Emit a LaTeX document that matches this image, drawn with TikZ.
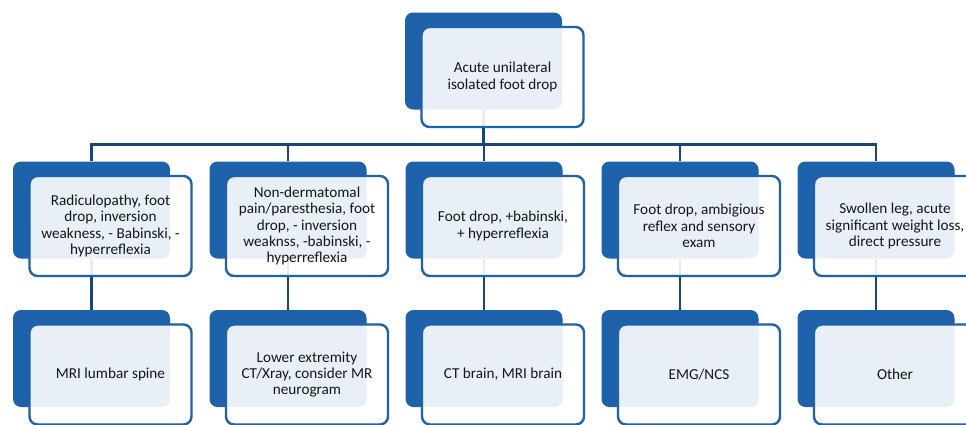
\documentclass[tikz,border=0pt]{standalone}
\usepackage{fontspec}
\setmainfont{Carlito}
\usetikzlibrary{positioning}
\definecolor{boxblue}{RGB}{30,98,172}
\definecolor{linkblue}{RGB}{24,68,128}
\definecolor{textgray}{RGB}{22,22,22}

\begin{document}
\begin{tikzpicture}[x=1pt,y=-1pt,
    back/.style={fill=boxblue,rounded corners=8pt,minimum width=157pt,minimum height=97pt,inner sep=0pt},
    front/.style={draw=boxblue,line width=2.4pt,fill=white,fill opacity=0.9,text opacity=1,
      rounded corners=8pt,minimum width=162pt,minimum height=100pt,inner sep=1pt,
      align=center,text=textgray,font=\fontsize{15.2}{16.4}\selectfont},
    link/.style={draw=linkblue,line width=2.6pt}]
    \fill[white] (0,0) rectangle (966,424);
    \clip (0,0) rectangle (966,424);

    % back plates
    \node[back] (tb) at (483.5,61) {};
    \node[back] (c1) at (91.5,210) {};
    \node[back] (c2) at (288,210) {};
    \node[back] (c3) at (484,210) {};
    \node[back] (c4) at (680,210) {};
    \node[back] (c5) at (876,210) {};
    \node[back] (b1) at (91.5,358.5) {};
    \node[back] (b2) at (288,358.5) {};
    \node[back] (b3) at (484,358.5) {};
    \node[back] (b4) at (680,358.5) {};
    \node[back] (b5) at (876,358.5) {};

    % tree lines
    \draw[link] (tb.south) -- ++(0,35) -| (c1.north);
    \draw[link] (tb.south) -- ++(0,35) -| (c2.north);
    \draw[link] (tb.south) -- ++(0,35) -| (c3.north);
    \draw[link] (tb.south) -- ++(0,35) -| (c4.north);
    \draw[link] (tb.south) -- ++(0,35) -| (c5.north);
    \draw[link] (c1.south) -- (b1.north);
    \draw[link] (c2.south) -- (b2.north);
    \draw[link] (c3.south) -- (b3.north);
    \draw[link] (c4.south) -- (b4.north);
    \draw[link] (c5.south) -- (b5.north);

    % front cards
    \node[front] (tf) at ([shift={(19,16)}]tb.center) {Acute unilateral\\isolated foot drop};
    \node[front] (c1f) at ([shift={(19,16)}]c1.center) {Radiculopathy, foot\\drop, inversion\\weakness, - Babinski, -\\hyperreflexia};
    \node[front] (c2f) at ([shift={(19,16)}]c2.center) {Non-dermatomal\\pain/paresthesia, foot\\drop, - inversion\\weaknss, -babinski, -\\hyperreflexia};
    \node[front] (c3f) at ([shift={(19,16)}]c3.center) {Foot drop, +babinski,\\+ hyperreflexia};
    \node[front] (c4f) at ([shift={(19,16)}]c4.center) {Foot drop, ambigious\\reflex and sensory\\exam};
    \node[front] (c5f) at ([shift={(19,16)}]c5.center) {Swollen leg, acute\\significant weight loss,\\direct pressure};
    \node[front] (b1f) at ([shift={(19,16)}]b1.center) {MRI lumbar spine};
    \node[front] (b2f) at ([shift={(19,16)}]b2.center) {Lower extremity\\CT/Xray, consider MR\\neurogram};
    \node[front] (b3f) at ([shift={(19,16)}]b3.center) {CT brain, MRI brain};
    \node[front] (b4f) at ([shift={(19,16)}]b4.center) {EMG/NCS};
    \node[front] (b5f) at ([shift={(19,16)}]b5.center) {Other};
\end{tikzpicture}
\end{document}
